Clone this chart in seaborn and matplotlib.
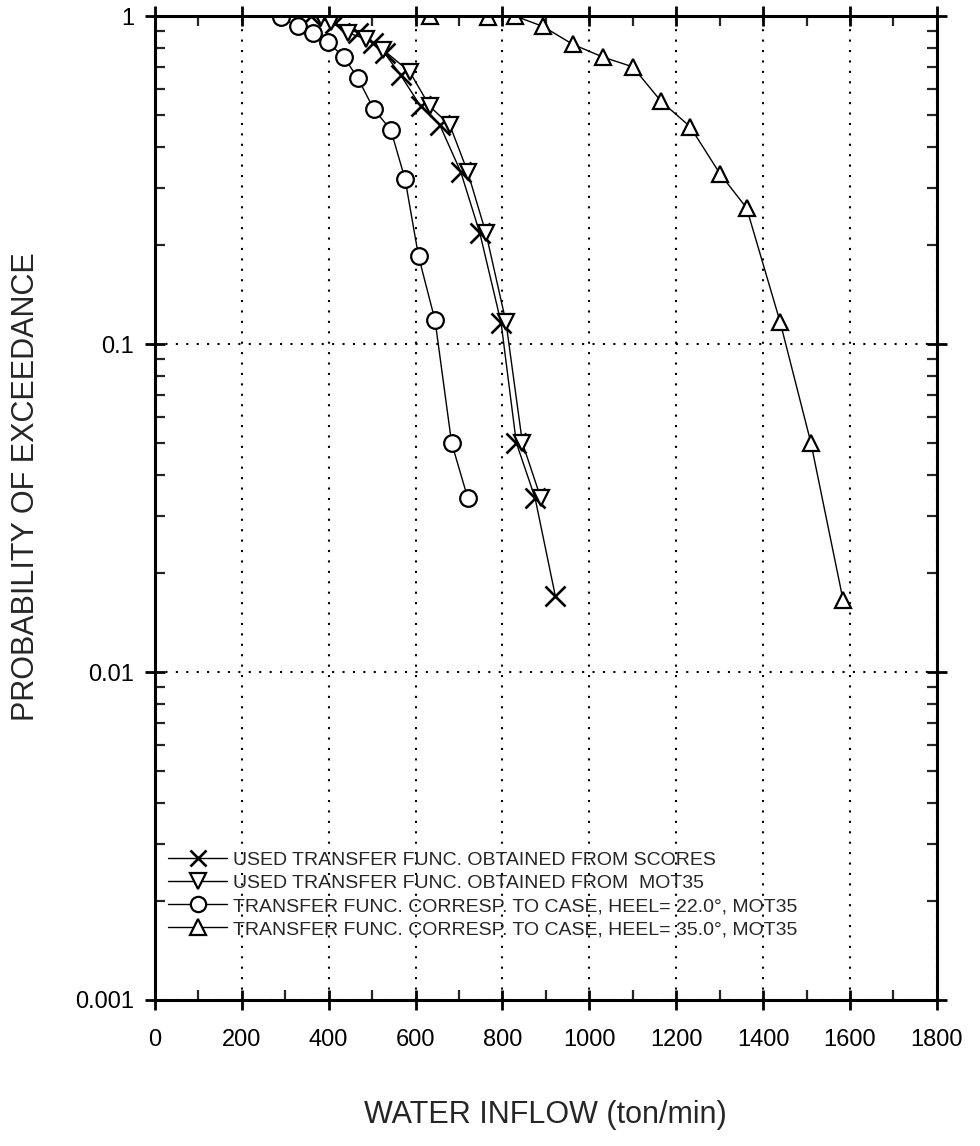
import matplotlib
matplotlib.use("Agg")
import matplotlib.pyplot as plt
from matplotlib.ticker import FixedLocator, MultipleLocator, LogLocator, NullFormatter
import numpy as np
import pandas as pd
import seaborn as sns

# water inflow (ton/min) vs probability of exceedance
scores_x = [359, 414, 467, 502, 529, 566, 612, 656, 704, 748, 797, 832, 875, 922]
scores_y = [1.0, 0.95, 0.89, 0.83, 0.77, 0.66, 0.53, 0.465, 0.335, 0.218, 0.116, 0.05, 0.034, 0.017]

mot35_x = [382, 405, 444, 486, 525, 587, 633, 679, 720, 762, 808, 846, 888]
mot35_y = [0.99, 0.96, 0.89, 0.85, 0.79, 0.675, 0.53, 0.465, 0.335, 0.218, 0.117, 0.05, 0.034]

heel22_x = [290, 329, 364, 398, 435, 467, 504, 543, 576, 607, 645, 683, 720]
heel22_y = [0.99, 0.93, 0.887, 0.833, 0.75, 0.647, 0.52, 0.45, 0.318, 0.185, 0.118, 0.05, 0.034]

heel35_x = [633, 767, 829, 893, 962, 1031, 1100, 1165, 1232, 1301, 1362, 1439, 1510, 1584]
heel35_y = [1.0, 0.99, 1.0, 0.93, 0.82, 0.75, 0.70, 0.55, 0.46, 0.33, 0.26, 0.117, 0.05, 0.0166]

labels = [
    "USED TRANSFER FUNC. OBTAINED FROM SCORES",
    "USED TRANSFER FUNC. OBTAINED FROM  MOT35",
    "TRANSFER FUNC. CORRESP. TO CASE, HEEL= 22.0°, MOT35",
    "TRANSFER FUNC. CORRESP. TO CASE, HEEL= 35.0°, MOT35",
]
markers = ["x", "v", "o", "^"]

sns.set_theme(style="ticks")
plt.rcParams["font.family"] = ["Liberation Sans", "DejaVu Sans"]

fig = plt.figure(figsize=(9.8, 11.46), dpi=100)
ax = fig.add_axes([0.158, 0.1274, 0.798, 0.8586])

series = [(scores_x, scores_y), (mot35_x, mot35_y), (heel22_x, heel22_y), (heel35_x, heel35_y)]
for (xs, ys), lab, mk in zip(series, labels, markers):
    df = pd.DataFrame({"inflow": xs, "prob": ys})
    sns.lineplot(
        data=df, x="inflow", y="prob", ax=ax, sort=False, label=lab,
        color="black", linewidth=1.0, marker=mk,
        markersize=14 if mk == "x" else 12,
        markerfacecolor="white", markeredgecolor="black",
        markeredgewidth=1.9 if mk == "x" else 1.6,
    )

ax.set_yscale("log")
ax.set_xlim(0, 1800)
ax.set_ylim(0.001, 1)
ax.xaxis.set_major_locator(MultipleLocator(200))
ax.xaxis.set_minor_locator(MultipleLocator(100))
ax.yaxis.set_major_locator(FixedLocator([0.001, 0.01, 0.1, 1]))
ax.set_yticklabels(["0.001", "0.01", "0.1", "1"])
ax.yaxis.set_minor_locator(LogLocator(base=10, subs=np.arange(2, 10)))
ax.yaxis.set_minor_formatter(NullFormatter())

ax.grid(True, which="major", color="black", linestyle=(0, (1, 4)), linewidth=1.5)
for s in ax.spines.values():
    s.set_visible(True)
    s.set_linewidth(2.2)
    s.set_color("black")

ax.tick_params(which="major", direction="inout", length=14, width=2, top=True, right=True,
               labelsize=17, colors="black", pad=8)
ax.tick_params(axis="x", which="major", pad=14)
ax.tick_params(which="minor", direction="in", length=7, width=1.6, top=True, right=True)

ax.set_xlabel("WATER INFLOW (ton/min)", fontsize=22)
ax.set_ylabel("PROBABILITY OF EXCEEDANCE", fontsize=22)
ax.xaxis.set_label_coords(0.5, -0.102)
ax.yaxis.set_label_coords(-0.145, 0.522)

leg = ax.legend(loc="lower left", bbox_to_anchor=(0.0, 0.049), frameon=False,
                fontsize=14, handlelength=3.0, handletextpad=0.3,
                labelspacing=0.28, borderaxespad=0.3, numpoints=1)
for h in leg.legend_handles:
    h.set_markersize(11)

fig.savefig("out.png", dpi=100, facecolor="white")
